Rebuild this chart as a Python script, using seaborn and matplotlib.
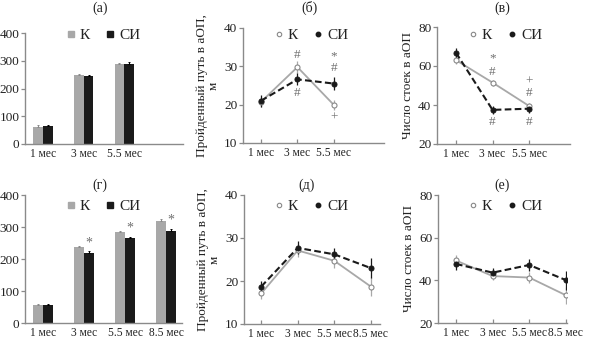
import matplotlib
matplotlib.use("Agg")
import matplotlib.pyplot as plt
from matplotlib.lines import Line2D
import pandas as pd
import seaborn as sns

# ---- data ----
months3 = ["1 мес", "3 мес", "5.5 мес"]
months4 = ["1 мес", "3 мес", "5.5 мес", "8.5 мес"]
groups = ["К", "СИ"]

# (а) bars
a_k = [63, 250, 289]
a_k_err = [4, 3, 4]
a_si = [66, 245, 290]
a_si_err = [4, 4, 4]

# (б) distance travelled, m
b_k = [20.7, 29.8, 19.9]
b_k_err = [1.2, 1.5, 1.4]
b_si = [21.0, 26.6, 25.5]
b_si_err = [1.5, 1.6, 1.6]
b_marks = [(1, 33.0, "#"), (1, 23.0, "#"), (2, 32.6, "*"), (2, 29.6, "#"), (2, 16.6, "+")]

# (в) rearings
v_k = [63.0, 51.5, 39.5]
v_k_err = [2.0, 1.5, 1.5]
v_si = [66.8, 37.5, 38.1]
v_si_err = [2.5, 2.0, 2.0]
v_marks = [(1, 64.0, "*"), (1, 57.0, "#"), (1, 31.5, "#"),
           (2, 52.0, "+"), (2, 46.2, "#"), (2, 31.5, "#")]

# (г) bars
g_k = [57, 238, 283, 320]
g_k_err = [3, 4, 3, 5]
g_si = [56, 220, 266, 289]
g_si_err = [3, 4, 4, 5]
g_star_idx = [1, 2, 3]

# (д) distance travelled, m
d_k = [17.1, 27.1, 24.7, 18.7]
d_k_err = [1.3, 1.5, 1.6, 2.2]
d_si = [18.7, 27.7, 26.2, 23.0]
d_si_err = [1.4, 1.5, 1.5, 2.3]

# (е) rearings
e_k = [49.3, 42.0, 41.3, 33.0]
e_k_err = [2.5, 2.0, 2.5, 4.0]
e_si = [47.7, 43.6, 47.2, 40.1]
e_si_err = [3.0, 2.0, 3.0, 4.5]

# ---- style ----
sns.set_theme(style="ticks")
plt.rcParams["font.family"] = ["Liberation Serif", "DejaVu Serif"]
plt.rcParams["font.size"] = 9

GREY = "#a8a8a8"
BLACK = "#1a1a1a"
SPINE = "#8a8a8a"
MARK = "#707070"
TXT = "#222222"
W, H = 589, 342

fig = plt.figure(figsize=(W / 100, H / 100), dpi=100)


def add_ax(l, r, t, b):
    return fig.add_axes([l / W, 1 - b / H, (r - l) / W, (b - t) / H])


def style_ax(ax, yticks, xlim, xticks_in):
    ax.set_ylim(yticks[0], yticks[-1])
    ax.set_yticks(yticks)
    ax.set_xlim(*xlim)
    for s in ("top", "right"):
        ax.spines[s].set_visible(False)
    for s in ("left", "bottom"):
        ax.spines[s].set_color(SPINE)
        ax.spines[s].set_linewidth(1.0)
    ax.tick_params(axis="y", direction="out", length=3, width=0.9,
                   color=SPINE, labelsize=9.5, pad=1, labelcolor=TXT)
    if xticks_in:
        ax.tick_params(axis="x", direction="in", length=3, width=0.9,
                       color=SPINE, labelsize=8.3, pad=3, labelcolor=TXT)
    else:
        ax.tick_params(axis="x", length=0, labelsize=8.3, pad=3, labelcolor=TXT)
    ax.set_xlabel("")
    ax.set_ylabel("")


def bar_panel(ax, months, k, k_err, si, si_err, stars=()):
    df = pd.DataFrame({
        "month": months + months,
        "value": k + si,
        "group": ["К"] * len(months) + ["СИ"] * len(months),
    })
    sns.barplot(data=df, x="month", y="value", hue="group", order=months,
                hue_order=groups, palette={"К": GREY, "СИ": BLACK},
                width=0.48, errorbar=None, legend=False, ax=ax, linewidth=0,
                saturation=1)
    for cont, err, col in zip(ax.containers, (k_err, si_err), ("#8a8a8a", "#000")):
        xs = [p.get_x() + p.get_width() / 2 for p in cont.patches]
        hs = [p.get_height() for p in cont.patches]
        ax.errorbar(xs, hs, yerr=[[0] * len(err), err], fmt="none",
                    ecolor=col, elinewidth=0.8, capsize=1.0, capthick=0.7)
    si_patches = ax.containers[1].patches
    for i in stars:
        p = si_patches[i]
        ax.text(p.get_x() + p.get_width() / 2, p.get_height() + si_err[i] + 6, "*",
                ha="center", va="bottom", fontsize=10, color=MARK)
    handles = [Line2D([], [], marker="s", ls="none", color=GREY, markersize=4),
               Line2D([], [], marker="s", ls="none", color=BLACK, markersize=4)]
    return handles


def line_panel(ax, months, k, k_err, si, si_err, marks=()):
    pos = list(range(len(months)))
    dk = pd.DataFrame({"pos": pos, "value": k})
    ds = pd.DataFrame({"pos": pos, "value": si})
    ax.errorbar(pos, k, yerr=k_err, fmt="none", ecolor=GREY,
                elinewidth=0.9, capsize=0, zorder=2)
    ax.errorbar(pos, si, yerr=si_err, fmt="none", ecolor=BLACK,
                elinewidth=0.9, capsize=0, zorder=2)
    sns.lineplot(data=dk, x="pos", y="value", ax=ax, color=GREY, lw=1.3,
                 marker="o", markersize=3.6, markerfacecolor="white",
                 markeredgecolor="#888", markeredgewidth=0.8, zorder=3)
    sns.lineplot(data=ds, x="pos", y="value", ax=ax, color=BLACK, lw=1.5,
                 linestyle=(0, (3.2, 1.6)), marker="o", markersize=3.6,
                 markerfacecolor=BLACK, markeredgecolor=BLACK, zorder=4)
    ax.set_xticks(pos)
    ax.set_xticklabels(months)
    for i, y, sym in marks:
        ax.text(i, y, sym, ha="center", va="center", fontsize=9.5, color=MARK)
    handles = [Line2D([], [], marker="o", ls="none", markerfacecolor="white",
                      markeredgecolor="#888", markeredgewidth=0.8, markersize=3.2),
               Line2D([], [], marker="o", ls="none", color=BLACK, markersize=3.2)]
    return handles


def put_legend(ax, handles, cx, cy):
    ax.legend(handles, groups, loc="center", bbox_to_anchor=(cx / W, 1 - cy / H),
              bbox_transform=fig.transFigure, ncol=2, frameon=False,
              handlelength=0.6, handletextpad=0.3, columnspacing=1.0,
              fontsize=11, borderpad=0, labelcolor=TXT)


def title(text, cx, cy):
    fig.text(cx / W, 1 - cy / H, text, ha="center", va="center", fontsize=10,
             color=TXT)


# (а)
ax = add_ax(25, 183, 33, 144)
h = bar_panel(ax, months3, a_k, a_k_err, a_si, a_si_err)
style_ax(ax, [0, 100, 200, 300, 400], (-0.44, 3.44), False)
put_legend(ax, h, 103, 35)
title("(а)", 100, 8)

# (б)
ax = add_ax(243, 384, 28, 143)
h = line_panel(ax, months3, b_k, b_k_err, b_si, b_si_err, b_marks)
style_ax(ax, [10, 20, 30, 40], (-0.49, 3.37), True)
ax.set_ylabel("Пройденный путь в аОП,\nм", fontsize=9.5, labelpad=3,
              linespacing=1.0, color=TXT)
put_legend(ax, h, 311, 35)
title("(б)", 309, 8)

# (в)
ax = add_ax(437, 570, 27, 144)
h = line_panel(ax, months3, v_k, v_k_err, v_si, v_si_err, v_marks)
style_ax(ax, [20, 40, 60, 80], (-0.52, 3.12), True)
ax.set_ylabel("Число стоек в аОП", fontsize=9.5, labelpad=3, color=TXT)
put_legend(ax, h, 505, 35)
title("(в)", 502, 8)

# (г)
ax = add_ax(25, 182, 195, 323)
h = bar_panel(ax, months4, g_k, g_k_err, g_si, g_si_err, g_star_idx)
style_ax(ax, [0, 100, 200, 300, 400], (-0.44, 3.39), False)
put_legend(ax, h, 103, 206)
title("(г)", 100, 185)

# (д)
ax = add_ax(244, 380, 195, 324)
h = line_panel(ax, months4, d_k, d_k_err, d_si, d_si_err)
style_ax(ax, [10, 20, 30, 40], (-0.47, 3.25), True)
ax.set_ylabel("Пройденный путь в аОП,\nм", fontsize=9.5, labelpad=3,
              linespacing=1.0, color=TXT)
put_legend(ax, h, 311, 206)
title("(д)", 307, 185)

# (е)
ax = add_ax(438, 567, 195, 323)
h = line_panel(ax, months4, e_k, e_k_err, e_si, e_si_err)
style_ax(ax, [20, 40, 60, 80], (-0.49, 3.03), True)
ax.set_ylabel("Число стоек в аОП", fontsize=9.5, labelpad=3, color=TXT)
put_legend(ax, h, 505, 206)
title("(е)", 502, 185)

fig.savefig("out.png", dpi=100, facecolor="white")
